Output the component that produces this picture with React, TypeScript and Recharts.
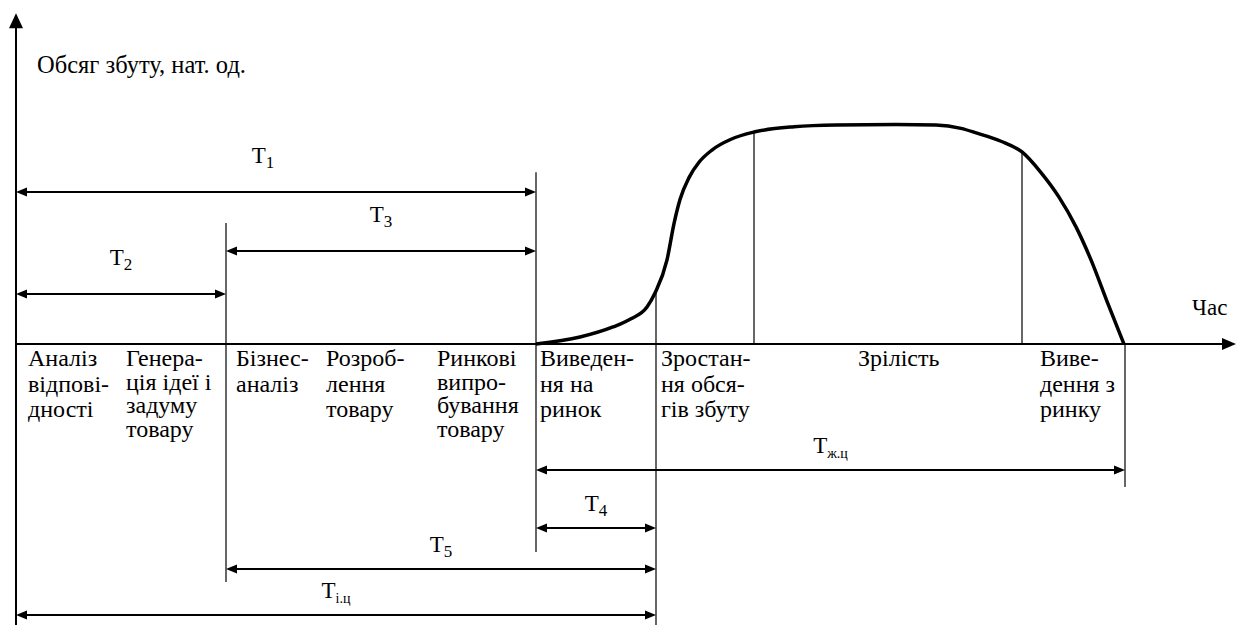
import React from 'react';
import { LineChart, Line, XAxis, YAxis, ReferenceLine, ReferenceDot } from 'recharts';

// time axis (x) and sales volume (y), in chart units
const curveTime = [52, 56.4, 59.7, 61.5, 63.1, 63.9, 65.1, 65.8, 66.4, 67.3, 68.3, 69.6, 71.5, 73.8, 77.8, 82, 88, 92, 94.5, 96.1, 98.5, 100.6, 102.5, 104.3, 106, 107.5, 109.1, 110.8];
const curveSales = [0, 3.2, 7.8, 11.5, 16.9, 23.3, 38.4, 55, 66, 76, 83, 88.6, 93.5, 96.8, 99.2, 100, 100.2, 100, 98.5, 96.3, 92.6, 87.7, 78.3, 67.1, 53.5, 38.4, 19.5, 0];

// phase names under the time axis
const phaseNames = [
    ['Аналіз', 'відпові-', 'дності'],
    ['Генера-', 'ція ідеї і', 'задуму', 'товару'],
    ['Бізнес-', 'аналіз'],
    ['Розроб-', 'лення', 'товару'],
    ['Ринкові', 'випро-', 'бування', 'товару'],
    ['Виведен-', 'ня на', 'ринок'],
    ['Зростан-', 'ня обся-', 'гів збуту'],
    ['Зрілість'],
    ['Виве-', 'дення з', 'ринку'],
];
const phaseStart = [1.2, 11, 22, 31, 42.1, 52.4, 64.5, 84.2, 102.4];

// phase boundaries (time) and how far each boundary line reaches
const boundaryTime = [21, 52, 64, 73.8, 100.6, 110.9];
const boundaryTop = [55.3, 78.5, 23.3, 96.8, 87.7, 0];
const boundaryBottom = [-108.7, -95, -128.3, 0, 0, -65.3];

// time intervals T1..Tі.ц
const intervalSub = ['1', '3', '2', 'ж.ц', '4', '5', 'і.ц'];
const intervalFrom = [0, 21, 0, 52, 52, 21, 0];
const intervalTo = [52, 52, 21, 110.9, 64, 64, 64];
const intervalRow = [69.4, 42.5, 22.8, -57.5, -84, -102.7, -123.7];

const X_MIN = -1.6;
const X_MAX = 122;
const Y_MIN = -128.3;
const Y_MAX = 157.1;

const textStyle: React.CSSProperties = { fontFamily: "'Liberation Serif', 'DejaVu Serif', serif", fill: '#000' };

const curve = curveTime.map((t, i) => ({ t, v: curveSales[i] }));

const head = (x: number, y: number, dir: number) =>
    `${x},${y} ${x - dir * 11},${y - 4.5} ${x - dir * 11},${y + 4.5}`;

const intervalShape = (sub: string, gap: number, shift: number) => (p: any) => {
    const { x1, y1, x2 } = p;
    return (
        <g>
            <line x1={x1 + 4} y1={y1} x2={x2 - 4} y2={y1} stroke="#000" strokeWidth={2} />
            <polygon points={head(x1, y1, -1)} fill="#000" />
            <polygon points={head(x2, y1, 1)} fill="#000" />
            <text x={(x1 + x2) / 2 + shift} y={y1 - gap} textAnchor="middle" style={{ ...textStyle, fontSize: 23 }}>
                T<tspan style={{ fontSize: sub.length > 1 ? 14 : 17 }} dy={5}>{sub}</tspan>
            </text>
        </g>
    );
};

const App: React.FC = () => {
    return (
        <div style={{ position: 'absolute', left: 0, top: 0, width: 1236, height: 625, background: '#fff' }}>
            <LineChart width={1236} height={625} data={curve} margin={{ top: 0, right: 0, bottom: 0, left: 0 }}>
                <XAxis type="number" dataKey="t" domain={[X_MIN, X_MAX]} allowDataOverflow hide />
                <YAxis type="number" domain={[Y_MIN, Y_MAX]} allowDataOverflow hide />

                {/* axes with arrow heads */}
                <ReferenceLine
                    ifOverflow="visible"
                    segment={[{ x: 0, y: Y_MIN }, { x: 0, y: 151.1 }]}
                    shape={(p: any) => (
                        <g>
                            <line x1={p.x1} y1={p.y1} x2={p.x2} y2={p.y2 + 8} stroke="#000" strokeWidth={2} />
                            <polygon points={`${p.x2},${p.y2} ${p.x2 - 7},${p.y2 + 15} ${p.x2 + 7},${p.y2 + 15}`} fill="#000" />
                        </g>
                    )}
                />
                <ReferenceLine
                    ifOverflow="visible"
                    segment={[{ x: 0, y: 0 }, { x: X_MAX, y: 0 }]}
                    shape={(p: any) => (
                        <g>
                            <line x1={p.x1} y1={p.y1} x2={p.x2 - 8} y2={p.y2} stroke="#000" strokeWidth={2} />
                            <polygon points={`${p.x2},${p.y2} ${p.x2 - 14},${p.y2 - 6} ${p.x2 - 14},${p.y2 + 6}`} fill="#000" />
                        </g>
                    )}
                />

                {boundaryTime.map((t, i) => (
                    <ReferenceLine
                        key={`b${i}`}
                        ifOverflow="visible"
                        segment={[{ x: t, y: boundaryTop[i] }, { x: t, y: boundaryBottom[i] }]}
                        stroke="#000"
                        strokeWidth={1.2}
                    />
                ))}

                {intervalSub.map((s, i) => (
                    <ReferenceLine
                        key={`iv${i}`}
                        ifOverflow="visible"
                        segment={[{ x: intervalFrom[i], y: intervalRow[i] }, { x: intervalTo[i], y: intervalRow[i] }]}
                        shape={intervalShape(s, intervalRow[i] > 0 ? 29 : 17, i === 0 ? -13 : 0)}
                    />
                ))}

                {phaseNames.map((lines, i) => (
                    <ReferenceDot
                        key={`ph${i}`}
                        x={phaseStart[i]}
                        y={0}
                        ifOverflow="visible"
                        shape={(p: any) => (
                            <text x={p.cx} y={p.cy} style={{ ...textStyle, fontSize: 24 }}>
                                {lines.map((l, j) => (
                                    <tspan key={j} x={p.cx} y={p.cy + 22 + j * (lines.length > 3 ? 23.7 : 25.5)}>{l}</tspan>
                                ))}
                            </text>
                        )}
                    />
                ))}

                <ReferenceDot
                    x={0}
                    y={123.7}
                    ifOverflow="visible"
                    shape={(p: any) => (
                        <text x={p.cx + 21} y={p.cy} style={{ ...textStyle, fontSize: 24.5 }}>Обсяг збуту, нат. од.</text>
                    )}
                />
                <ReferenceDot
                    x={X_MAX}
                    y={0}
                    ifOverflow="visible"
                    shape={(p: any) => (
                        <text x={p.cx - 44} y={p.cy - 29} style={{ ...textStyle, fontSize: 23 }}>Час</text>
                    )}
                />

                <Line
                    type="monotone"
                    dataKey="v"
                    stroke="#000"
                    strokeWidth={3.5}
                    dot={false}
                    activeDot={false}
                    isAnimationActive={false}
                />
            </LineChart>
        </div>
    );
};

export default App;
